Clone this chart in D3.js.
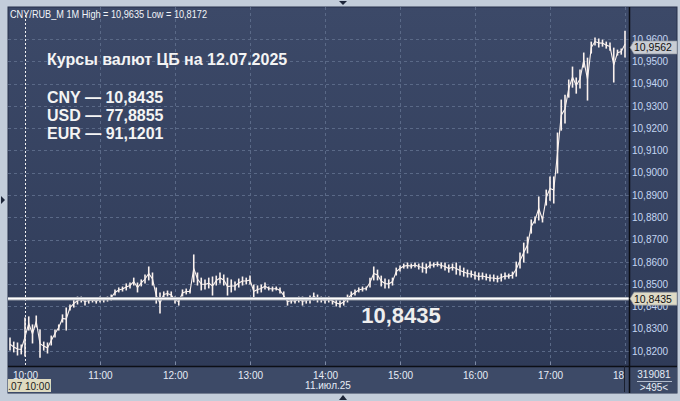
<!DOCTYPE html>
<html>
<head>
<meta charset="utf-8">
<script src="https://cdn.jsdelivr.net/npm/d3@7"></script>
<style>
  html, body { margin: 0; padding: 0; background: #c3cdda; overflow: hidden; }
  svg { display: block; font-family: "Liberation Sans", Arial, sans-serif; }
</style>
</head>
<body>
<svg id="chart" width="680" height="401"></svg>
<script>
// ---- data ----
const headerText = 'CNY/RUB_M 1M High = 10,9635 Low = 10,8172'
const titleLines = ['Курсы валют ЦБ на 12.07.2025']
const rateLines = ['CNY — 10,8435', 'USD — 77,8855', 'EUR — 91,1201']
const cbRate = 10.8435
const lastPrice = 10.9562
const volumeText = '319081'
const barsText = '>495<'
const dateText = '11.июл.25'
const cursorText = '11.07 10:00'

const xTickLabels = ['10:00', '11:00', '12:00', '13:00', '14:00', '15:00', '16:00', '17:00', '18:00']
const yTicks = [10.82, 10.83, 10.84, 10.85, 10.86, 10.87, 10.88, 10.89, 10.90, 10.91, 10.92, 10.93, 10.94, 10.95, 10.96]

// 3-minute bars starting 09:48
const barStart = '2025-07-11 09:48'
const barStepMinutes = 3
const barLow = [
  10.8204, 10.8196, 10.8182, 10.8187, 10.8178, 10.8294, 10.8236, 10.8308, 10.8172, 10.8204,
  10.8191, 10.8227, 10.8263, 10.8294, 10.8330, 10.8294, 10.8384, 10.8397, 10.8411, 10.8420,
  10.8406, 10.8415, 10.8420, 10.8415, 10.8420, 10.8420, 10.8424, 10.8429, 10.8451, 10.8465,
  10.8469, 10.8474, 10.8483, 10.8496, 10.8465, 10.8492, 10.8505, 10.8519, 10.8496, 10.8415,
  10.8370, 10.8442, 10.8447, 10.8438, 10.8415, 10.8406, 10.8447, 10.8456, 10.8460, 10.8510,
  10.8496, 10.8474, 10.8478, 10.8483, 10.8451, 10.8496, 10.8505, 10.8496, 10.8451, 10.8465,
  10.8474, 10.8487, 10.8496, 10.8501, 10.8501, 10.8438, 10.8460, 10.8465, 10.8478, 10.8474,
  10.8469, 10.8474, 10.8460, 10.8433, 10.8406, 10.8415, 10.8415, 10.8420, 10.8406, 10.8415,
  10.8415, 10.8429, 10.8420, 10.8420, 10.8415, 10.8420, 10.8411, 10.8402, 10.8397, 10.8406,
  10.8420, 10.8438, 10.8451, 10.8465, 10.8469, 10.8474, 10.8487, 10.8519, 10.8519, 10.8492,
  10.8483, 10.8483, 10.8496, 10.8541, 10.8559, 10.8572, 10.8572, 10.8572, 10.8577, 10.8568,
  10.8554, 10.8550, 10.8572, 10.8577, 10.8581, 10.8572, 10.8563, 10.8554, 10.8563, 10.8545,
  10.8541, 10.8536, 10.8532, 10.8532, 10.8523, 10.8519, 10.8523, 10.8519, 10.8514, 10.8514,
  10.8510, 10.8514, 10.8523, 10.8527, 10.8527, 10.8536, 10.8572, 10.8599, 10.8640, 10.8729,
  10.8774, 10.8788, 10.8779, 10.8855, 10.8877, 10.8864, 10.8999, 10.9191, 10.9223, 10.9339,
  10.9384, 10.9357, 10.9380, 10.9474, 10.9326, 10.9537, 10.9573, 10.9564, 10.9568, 10.9559,
  10.9550, 10.9407, 10.9528, 10.9532, 10.9519
]
const barHigh = [
  10.8258, 10.8240, 10.8236, 10.8227, 10.8348, 10.8353, 10.8317, 10.8357, 10.8294, 10.8240,
  10.8236, 10.8267, 10.8294, 10.8317, 10.8362, 10.8393, 10.8406, 10.8429, 10.8442, 10.8442,
  10.8438, 10.8438, 10.8438, 10.8433, 10.8442, 10.8438, 10.8442, 10.8451, 10.8474, 10.8483,
  10.8487, 10.8501, 10.8505, 10.8527, 10.8505, 10.8519, 10.8541, 10.8577, 10.8550, 10.8483,
  10.8460, 10.8465, 10.8469, 10.8465, 10.8442, 10.8438, 10.8474, 10.8478, 10.8474, 10.8631,
  10.8550, 10.8527, 10.8519, 10.8527, 10.8532, 10.8536, 10.8550, 10.8541, 10.8527, 10.8519,
  10.8510, 10.8523, 10.8532, 10.8527, 10.8536, 10.8496, 10.8492, 10.8496, 10.8505, 10.8487,
  10.8487, 10.8487, 10.8483, 10.8465, 10.8438, 10.8438, 10.8433, 10.8442, 10.8442, 10.8438,
  10.8447, 10.8460, 10.8451, 10.8442, 10.8438, 10.8442, 10.8438, 10.8429, 10.8424, 10.8433,
  10.8451, 10.8465, 10.8474, 10.8483, 10.8487, 10.8487, 10.8527, 10.8577, 10.8563, 10.8536,
  10.8523, 10.8519, 10.8527, 10.8572, 10.8581, 10.8590, 10.8595, 10.8590, 10.8595, 10.8590,
  10.8595, 10.8590, 10.8599, 10.8595, 10.8599, 10.8595, 10.8595, 10.8586, 10.8590, 10.8595,
  10.8581, 10.8572, 10.8563, 10.8559, 10.8554, 10.8550, 10.8550, 10.8545, 10.8541, 10.8541,
  10.8536, 10.8545, 10.8550, 10.8545, 10.8554, 10.8599, 10.8640, 10.8684, 10.8711, 10.8788,
  10.8801, 10.8891, 10.8801, 10.8922, 10.8981, 10.8981, 10.9178, 10.9326, 10.9348, 10.9416,
  10.9474, 10.9425, 10.9461, 10.9537, 10.9514, 10.9586, 10.9604, 10.9600, 10.9595, 10.9586,
  10.9582, 10.9559, 10.9550, 10.9555, 10.9635
]

// ---- layout ----
const width = 680
const height = 401
const panelLeft = 8, panelTop = 7, panelRight = 677, panelBottom = 393
const plotRight = 629
const axisTop = 366
const smallFont = 10

const ruLocale = d3.formatLocale({ decimal: ',', thousands: ' ', grouping: [3], currency: ['', ''] })
const fmt4 = ruLocale.format('.4f')

const parseTime = d3.timeParse('%Y-%m-%d %H:%M')
const t0 = parseTime(barStart)
const bars = barLow.map((lo, i) => ({
  t: d3.timeMinute.offset(t0, i * barStepMinutes),
  lo,
  hi: barHigh[i],
}))

const x = d3.scaleTime()
  .domain([parseTime('2025-07-11 10:00'), parseTime('2025-07-11 18:00')])
  .range([25, 625])
const y = d3.scaleLinear()
  .domain([10.82, 10.96])
  .range([351, 39])

const xTicks = xTickLabels.map(s => parseTime('2025-07-11 ' + s))

const svg = d3.select('#chart')

svg.append('rect').attr('width', width).attr('height', height).attr('fill', '#c3cdda')

const defs = svg.append('defs')
const grad = defs.append('linearGradient').attr('id', 'bg').attr('x1', 0).attr('y1', 0).attr('x2', 0).attr('y2', 1)
grad.append('stop').attr('offset', '0%').attr('stop-color', '#3c4968')
grad.append('stop').attr('offset', '100%').attr('stop-color', '#2e3a57')

defs.append('clipPath').attr('id', 'plotClip')
  .append('rect').attr('x', panelLeft).attr('y', panelTop).attr('width', plotRight - panelLeft).attr('height', axisTop - panelTop)
defs.append('clipPath').attr('id', 'xClip')
  .append('rect').attr('x', panelLeft).attr('y', axisTop).attr('width', 624 - panelLeft).attr('height', panelBottom - axisTop)
defs.append('clipPath').attr('id', 'dateClip')
  .append('rect').attr('x', panelLeft).attr('y', 379).attr('width', 43).attr('height', 13)

// panel
svg.append('rect')
  .attr('x', panelLeft).attr('y', panelTop)
  .attr('width', panelRight - panelLeft).attr('height', panelBottom - panelTop)
  .attr('fill', 'url(#bg)')
  .attr('stroke', '#27314a')

// grid
const grid = svg.append('g').attr('clip-path', 'url(#plotClip)')
grid.selectAll('.hgrid')
  .data(yTicks)
  .join('line')
  .attr('x1', panelLeft).attr('x2', plotRight)
  .attr('y1', d => Math.round(y(d)) + 0.5).attr('y2', d => Math.round(y(d)) + 0.5)
  .attr('stroke', '#5a6987').attr('stroke-dasharray', '3,3')
grid.selectAll('.vgrid')
  .data(xTicks.slice(1))
  .join('line')
  .attr('x1', d => Math.round(x(d)) + 0.5).attr('x2', d => Math.round(x(d)) + 0.5)
  .attr('y1', panelTop).attr('y2', axisTop)
  .attr('stroke', '#5a6987').attr('stroke-dasharray', '3,3')

// cursor line at 10:00
svg.append('line')
  .attr('x1', Math.round(x(xTicks[0])) + 0.5).attr('x2', Math.round(x(xTicks[0])) + 0.5)
  .attr('y1', panelTop + 8).attr('y2', axisTop + 4)
  .attr('stroke', '#f4f4f4').attr('stroke-dasharray', '2,2')

// price series
const series = svg.append('g').attr('clip-path', 'url(#plotClip)')
series.append('path')
  .datum(bars)
  .attr('fill', 'none')
  .attr('stroke', '#fbf2ee')
  .attr('stroke-width', 1.1)
  .attr('d', d3.line().x(d => x(d.t)).y(d => y((d.lo + d.hi) / 2)))
series.selectAll('.bar')
  .data(bars)
  .join('line')
  .attr('x1', d => x(d.t)).attr('x2', d => x(d.t))
  .attr('y1', d => y(d.lo) + 0.5).attr('y2', d => y(d.hi) - 0.5)
  .attr('stroke', '#fbf2ee')
  .attr('stroke-width', 1.6)

// CB rate line
svg.append('line')
  .attr('x1', panelLeft).attr('x2', plotRight)
  .attr('y1', y(cbRate)).attr('y2', y(cbRate))
  .attr('stroke', '#9aa0ab').attr('stroke-width', 3.5)
svg.append('line')
  .attr('x1', panelLeft).attr('x2', plotRight)
  .attr('y1', y(cbRate)).attr('y2', y(cbRate))
  .attr('stroke', '#ffffff').attr('stroke-width', 1.6)

svg.append('text')
  .attr('x', 401).attr('y', y(cbRate) + 24)
  .attr('text-anchor', 'middle')
  .attr('font-size', 22).attr('font-weight', 'bold')
  .attr('fill', '#eeeeee')
  .text(fmt4(cbRate))

// x axis strip
svg.append('rect')
  .attr('x', panelLeft).attr('y', axisTop)
  .attr('width', panelRight - panelLeft).attr('height', panelBottom - axisTop)
  .attr('fill', '#3d4a67')
svg.append('line')
  .attr('x1', panelLeft).attr('x2', panelRight)
  .attr('y1', axisTop + 0.5).attr('y2', axisTop + 0.5)
  .attr('stroke', '#0c0f16').attr('stroke-width', 1.5)
svg.append('line')
  .attr('x1', plotRight + 0.5).attr('x2', plotRight + 0.5)
  .attr('y1', panelTop).attr('y2', panelBottom)
  .attr('stroke', '#0c0f16').attr('stroke-width', 1.5)
svg.append('line')
  .attr('x1', 624.5).attr('x2', 624.5)
  .attr('y1', axisTop).attr('y2', panelBottom - 1)
  .attr('stroke', '#1a2030')

// small tick marks above the axis line
svg.selectAll('.xtickmark')
  .data(xTicks.slice(1, -1))
  .join('line')
  .attr('x1', d => Math.round(x(d)) + 0.5).attr('x2', d => Math.round(x(d)) + 0.5)
  .attr('y1', axisTop - 4).attr('y2', axisTop - 1)
  .attr('stroke', '#7d8aa5')

// x axis labels (outer group carries the clip so the clip stays in page coords)
const xAxis = d3.axisBottom(x).tickValues(xTicks).tickFormat(d3.timeFormat('%H:%M')).tickSize(0).tickPadding(6)
const gx = svg.append('g')
  .attr('clip-path', 'url(#xClip)')
  .append('g')
  .attr('transform', `translate(0,${axisTop})`)
  .call(xAxis)
gx.select('.domain').remove()
gx.selectAll('text')
  .attr('font-family', '"Liberation Sans", Arial, sans-serif')
  .attr('font-size', smallFont)
  .attr('fill', '#e6ecf6')

svg.append('text')
  .attr('x', 328).attr('y', 389)
  .attr('text-anchor', 'middle')
  .attr('font-size', smallFont).attr('fill', '#e6ecf6')
  .text(dateText)

// cursor date box
svg.append('rect')
  .attr('x', panelLeft).attr('y', 379).attr('width', 43).attr('height', 13)
  .attr('fill', '#dedac0')
svg.append('text')
  .attr('clip-path', 'url(#dateClip)')
  .attr('x', 50).attr('y', 389.5)
  .attr('text-anchor', 'end')
  .attr('font-size', smallFont).attr('fill', '#1a1a1a')
  .text(cursorText)

// right-bottom info box
svg.append('text')
  .attr('x', 654).attr('y', 378)
  .attr('text-anchor', 'middle')
  .attr('font-size', smallFont).attr('fill', '#e6ecf6')
  .text(volumeText)
svg.append('line')
  .attr('x1', 637).attr('x2', 672).attr('y1', 381.5).attr('y2', 381.5)
  .attr('stroke', '#d0d8e6').attr('stroke-width', 0.8)
svg.append('text')
  .attr('x', 654).attr('y', 391)
  .attr('text-anchor', 'middle')
  .attr('font-size', smallFont).attr('fill', '#e6ecf6')
  .text(barsText)

// right y axis
const yAxis = d3.axisRight(y).tickValues(yTicks).tickFormat(fmt4).tickSize(0).tickPadding(3)
const gy = svg.append('g')
  .attr('transform', `translate(${plotRight},0)`)
  .call(yAxis)
gy.select('.domain').remove()
gy.selectAll('text')
  .attr('font-family', '"Liberation Sans", Arial, sans-serif')
  .attr('font-size', smallFont)
  .attr('fill', '#c4d6f2')

// price tags
function priceTag(value, fill) {
  const cy = y(value)
  svg.append('path')
    .attr('d', `M${plotRight + 1},${cy} L${plotRight + 5},${cy - 6.5} L${panelRight},${cy - 6.5} L${panelRight},${cy + 6.5} L${plotRight + 5},${cy + 6.5} Z`)
    .attr('fill', fill)
    .attr('stroke', '#8b909a').attr('stroke-width', 0.6)
  svg.append('text')
    .attr('x', plotRight + 5).attr('y', cy + 4)
    .attr('font-size', smallFont + 0.5).attr('fill', '#111111')
    .text(fmt4(value))
}
priceTag(lastPrice, '#c9cdd4')
priceTag(cbRate, '#dedac6')

// header + title texts
svg.append('text')
  .attr('x', 10).attr('y', 18)
  .attr('font-size', 10.5).attr('fill', '#f2f4f8')
  .attr('textLength', 197).attr('lengthAdjust', 'spacingAndGlyphs')
  .text(headerText)

svg.append('text')
  .attr('x', 47).attr('y', 65)
  .attr('font-size', 16).attr('font-weight', 'bold').attr('fill', '#f4f4f4')
  .text(titleLines[0])

svg.selectAll('.rate')
  .data(rateLines)
  .join('text')
  .attr('x', 47).attr('y', (d, i) => 103 + i * 18)
  .attr('font-size', 16).attr('font-weight', 'bold').attr('fill', '#f4f4f4')
  .text(d => d)

// frame arrows
svg.append('path').attr('d', 'M339,1 L347,1 L343,5 Z').attr('fill', '#1c2538')
svg.append('path').attr('d', 'M339,400 L347,400 L343,395 Z').attr('fill', '#1c2538')
svg.append('path').attr('d', 'M1,196 L1,204 L5,200 Z').attr('fill', '#1c2538')
</script>
</body>
</html>
